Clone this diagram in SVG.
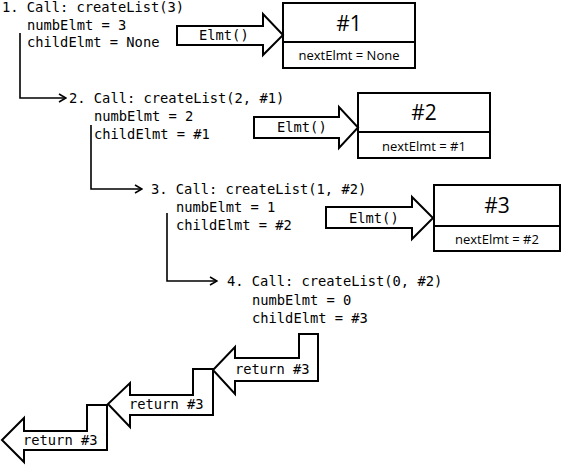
<svg xmlns="http://www.w3.org/2000/svg" width="566" height="465" viewBox="0 0 566 465">
<style>
.code{font-family:"DejaVu Sans Mono","Liberation Mono",monospace;font-size:13.75px;fill:#000}
.big{font-family:"Open Sans","Noto Sans",sans-serif;font-size:21px;fill:#000;text-anchor:middle}
.small{font-family:"Open Sans","Noto Sans",sans-serif;font-size:13px;fill:#000;text-anchor:middle}
.box{fill:#fff;stroke:#000;stroke-width:2}
.arr{fill:#fff;stroke:#000;stroke-width:2;stroke-linejoin:miter}
.br{fill:none;stroke:#000;stroke-width:1.6}
</style>
<defs>
<marker id="head" viewBox="0 0 10 10" refX="9" refY="5" markerWidth="10" markerHeight="10" markerUnits="userSpaceOnUse" orient="auto">
<polyline points="2,1 9,5 2,9" fill="none" stroke="#000" stroke-width="1.6"/>
</marker>
</defs>
<rect width="566" height="465" fill="#fff"/>

<g id="call1">
<text class="code" x="2" y="12">1. Call: createList(3)</text>
<text class="code" x="27" y="30">numbElmt = 3</text>
<text class="code" x="27" y="47">childElmt = None</text>
</g>
<g id="call2">
<text class="code" x="69" y="103">2. Call: createList(2, #1)</text>
<text class="code" x="94" y="121">numbElmt = 2</text>
<text class="code" x="94" y="139">childElmt = #1</text>
</g>
<g id="call3">
<text class="code" x="151" y="194">3. Call: createList(1, #2)</text>
<text class="code" x="176" y="212">numbElmt = 1</text>
<text class="code" x="176" y="230">childElmt = #2</text>
</g>
<g id="call4">
<text class="code" x="227" y="286">4. Call: createList(0, #2)</text>
<text class="code" x="252" y="305">numbElmt = 0</text>
<text class="code" x="252" y="323">childElmt = #3</text>
</g>

<g id="elem1">
<rect class="box" x="283" y="3" width="132" height="65"/>
<line x1="283" y1="42" x2="415" y2="42" stroke="#000" stroke-width="2"/>
<text class="big" x="349" y="31">#1</text>
<text class="small" x="349" y="60">nextElmt = None</text>
</g>
<g id="elem2">
<rect class="box" x="358" y="93" width="132" height="65"/>
<line x1="358" y1="132" x2="490" y2="132" stroke="#000" stroke-width="2"/>
<text class="big" x="424" y="120">#2</text>
<text class="small" x="424" y="151">nextElmt = #1</text>
</g>
<g id="elem3">
<rect class="box" x="434" y="185" width="126" height="66"/>
<line x1="434" y1="226" x2="560" y2="226" stroke="#000" stroke-width="2"/>
<text class="big" x="497" y="213">#3</text>
<text class="small" x="497" y="244">nextElmt = #2</text>
</g>

<g id="connectors">
<path class="br" d="M20,33 V98 H66" marker-end="url(#head)"/>
<path class="br" d="M91,125 V189 H142" marker-end="url(#head)"/>
<path class="br" d="M167,213 V281 H217" marker-end="url(#head)"/>

<g id="elmt1">
<polygon class="arr" points="177,26 263,26 263,14 283,35 263,55 263,45 177,45"/>
<text class="code" x="199" y="40">Elmt()</text>
</g>
<g id="elmt2">
<polygon class="arr" points="254,117 339,117 339,107 358,127.5 339,148 339,138 254,138"/>
<text class="code" x="277" y="132">Elmt()</text>
</g>
<g id="elmt3">
<polygon class="arr" points="326,207 412,207 412,197 433,218 412,239 412,228 326,228"/>
<text class="code" x="349" y="223">Elmt()</text>
</g>

<g id="return1">
<polygon class="arr" points="318,334 299,334 299,358 235,358 235,347 213,370 235,394 235,381 318,381"/>
<text class="code" x="235" y="374">return #3</text>
</g>
<g id="return2">
<polygon class="arr" points="213,369 193,369 193,395 130,395 130,383 108,404 130,427 130,415 213,415"/>
<text class="code" x="129" y="409">return #3</text>
</g>
<g id="return3">
<polygon class="arr" points="107,405 87,405 87,431 24,431 24,418 2,440 24,462 24,450 107,450"/>
<text class="code" x="23" y="445">return #3</text>
</g>
</g>
</svg>
